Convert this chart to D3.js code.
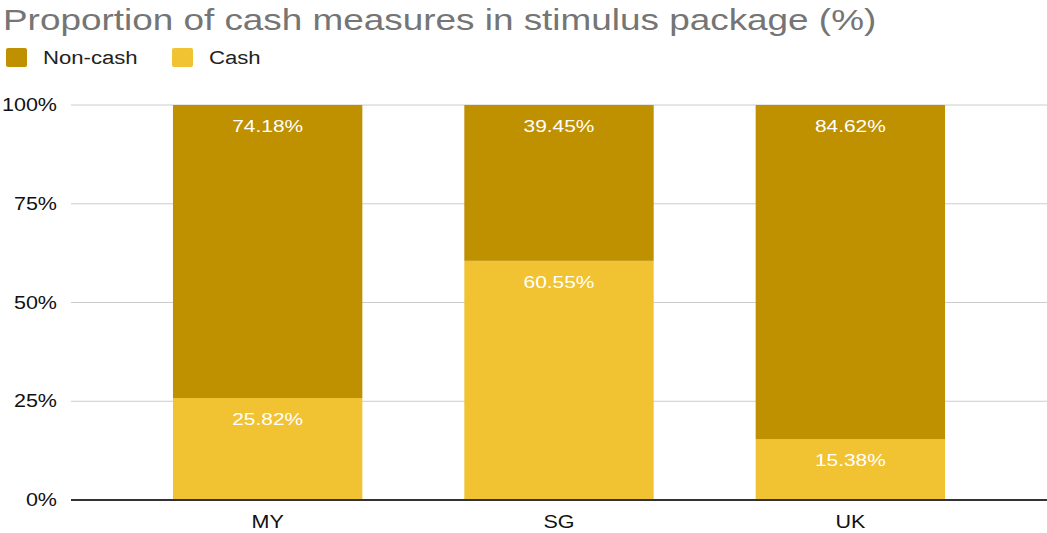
<!DOCTYPE html>
<html>
<head>
<meta charset="utf-8">
<script src="https://cdn.jsdelivr.net/npm/d3@7"></script>
<style>
  body { margin: 0; background: #fff; }
  svg { display: block; font-family: Arial, "Liberation Sans", sans-serif; }
</style>
</head>
<body>
<svg id="chart"></svg>
<script>
var width = 1047, height = 533;
var stretch = 1.23; // the reference text is drawn a bit wide

// data
var countries = ["MY", "SG", "UK"];
var nonCash = [74.18, 39.45, 84.62];
var cash = [25.82, 60.55, 15.38];
var yTicks = [0, 25, 50, 75, 100];
var seriesNames = ["Non-cash", "Cash"];
var seriesColors = ["#bf9000", "#f1c232"];

var svg = d3.select('#chart')
  .attr('width', width)
  .attr('height', height);

var x = d3.scaleBand()
  .domain(countries)
  .range([71, 1047])
  .paddingInner(0.35)
  .paddingOuter(0.35);

var y = d3.scaleLinear()
  .domain([0, 100])
  .range([500, 105]);

// text placed at (tx, ty) and widened horizontally
function wideText(parent, tx, ty) {
  return parent.append('g')
    .attr('transform', 'translate(' + tx + ',' + ty + ') scale(' + stretch + ',1)')
    .append('text');
}

// title
wideText(svg, 3, 30)
  .attr('fill', '#757575')
  .attr('font-size', 30)
  .text('Proportion of cash measures in stimulus package (%)');

// legend
var legendX = [6, 172];
seriesNames.forEach(function (name, i) {
  svg.append('rect')
    .attr('x', legendX[i])
    .attr('y', 48)
    .attr('width', 21)
    .attr('height', 19)
    .attr('rx', 2)
    .attr('fill', seriesColors[i]);
  wideText(svg, legendX[i] + 37, 64)
    .attr('font-size', 18)
    .attr('fill', '#222')
    .text(name);
});

// gridlines
svg.selectAll('.grid')
  .data(yTicks.filter(function (t) { return t > 0; }))
  .enter()
  .append('line')
  .attr('class', 'grid')
  .attr('x1', 71)
  .attr('x2', width)
  .attr('y1', function (d) { return y(d); })
  .attr('y2', function (d) { return y(d); })
  .attr('stroke', '#cccccc')
  .attr('stroke-width', 1);

// y axis labels
yTicks.forEach(function (t) {
  wideText(svg, 57, y(t))
    .attr('dy', '0.35em')
    .attr('text-anchor', 'end')
    .attr('font-size', 17.5)
    .attr('fill', '#111')
    .text(t + '%');
});

// stacked bars: cash on the bottom, non-cash on top
var rows = countries.map(function (c, i) {
  return { country: c, cash: cash[i], nonCash: nonCash[i] };
});
var stack = d3.stack().keys(["cash", "nonCash"]);
var layers = stack(rows);
var layerColors = { cash: seriesColors[1], nonCash: seriesColors[0] };

layers.forEach(function (layer) {
  var g = svg.append('g').attr('fill', layerColors[layer.key]);
  g.selectAll('rect')
    .data(layer)
    .enter()
    .append('rect')
    .attr('x', function (d) { return x(d.data.country); })
    .attr('y', function (d) { return y(d[1]); })
    .attr('width', x.bandwidth())
    .attr('height', function (d) { return y(d[0]) - y(d[1]); });

  // value labels near the top of each segment
  layer.forEach(function (d) {
    wideText(svg, x(d.data.country) + x.bandwidth() / 2, y(d[1]) + 21)
      .attr('dy', '0.35em')
      .attr('text-anchor', 'middle')
      .attr('font-size', 17)
      .attr('fill', '#ffffff')
      .text(d.data[layer.key].toFixed(2) + '%');
  });
});

// baseline
svg.append('line')
  .attr('x1', 71)
  .attr('x2', width)
  .attr('y1', y(0))
  .attr('y2', y(0))
  .attr('stroke', '#333')
  .attr('stroke-width', 2);

// x axis labels
countries.forEach(function (c) {
  wideText(svg, x(c) + x.bandwidth() / 2, 522)
    .attr('dy', '0.35em')
    .attr('text-anchor', 'middle')
    .attr('font-size', 17.5)
    .attr('fill', '#111')
    .text(c);
});
</script>
</body>
</html>
